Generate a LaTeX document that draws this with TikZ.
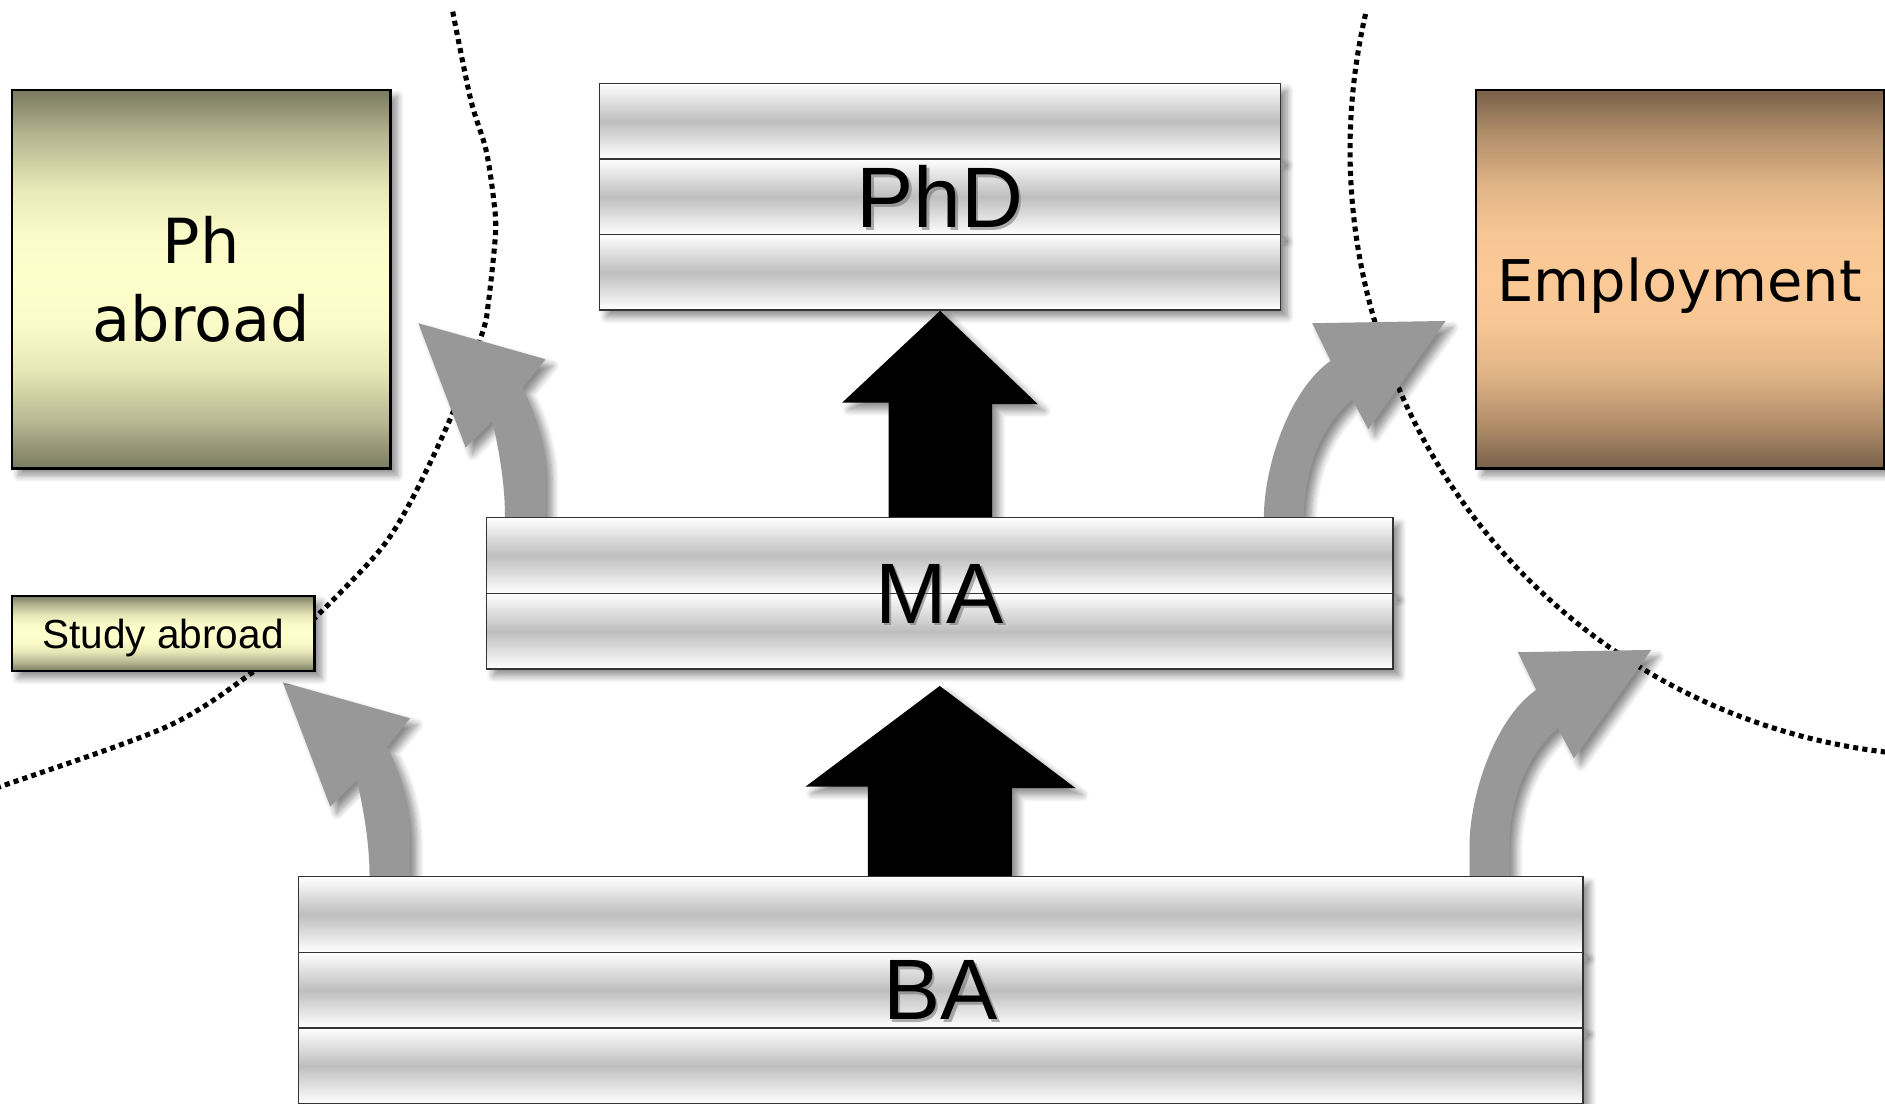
\documentclass[tikz,border=0pt]{standalone}
\usepackage{fontspec}
\setmainfont{Liberation Sans}
\newfontfamily\verdfont{DejaVu Sans}
\usetikzlibrary{calc}
\usetikzlibrary{positioning}
\usetikzlibrary{backgrounds}
\usetikzlibrary{shadows.blur}
\usepackage{xcolor}

\definecolor{olivedark}{RGB}{122,122,95}
\definecolor{olivelight}{RGB}{255,255,204}
\definecolor{browndark}{RGB}{121,96,72}
\definecolor{brownlight}{RGB}{250,201,150}
\definecolor{stripegray}{RGB}{190,190,190}
\definecolor{bendgray}{RGB}{152,152,152}

\pgfdeclareverticalshading{olivefade}{100bp}{color(0bp)=(olivedark); color(25bp)=(olivedark);
  color(31bp)=(olivelight!45!olivedark); color(38bp)=(olivelight!82!olivedark); color(44bp)=(olivelight!97!olivedark);
  color(50bp)=(olivelight); color(56bp)=(olivelight!97!olivedark); color(62bp)=(olivelight!82!olivedark);
  color(69bp)=(olivelight!45!olivedark); color(75bp)=(olivedark); color(100bp)=(olivedark)}
\pgfdeclareverticalshading{brownfade}{100bp}{color(0bp)=(browndark); color(25bp)=(browndark);
  color(31bp)=(brownlight!45!browndark); color(38bp)=(brownlight!82!browndark); color(44bp)=(brownlight!97!browndark);
  color(50bp)=(brownlight); color(56bp)=(brownlight!97!browndark); color(62bp)=(brownlight!82!browndark);
  color(69bp)=(brownlight!45!browndark); color(75bp)=(browndark); color(100bp)=(browndark)}

\tikzset{
  softshadow/.style={blur shadow={shadow xshift=1.6pt, shadow yshift=-1.6pt, shadow blur radius=1.6pt, shadow blur steps=8, shadow opacity=45}},
  stripe/.style={draw=black!80, line width=.35pt, top color=white, bottom color=white, middle color=stripegray, minimum width=#1, minimum height=.629cm, inner sep=0pt, softshadow},
  olivebox/.style={draw=black, line width=.5pt, shading=olivefade, inner sep=0pt, softshadow},
  brownbox/.style={draw=black, line width=.5pt, shading=brownfade, inner sep=0pt, softshadow},
  deglabel/.style={font=\fontsize{20.3}{24}\selectfont, inner sep=0pt},
  bendshape/.style={fill=bendgray, softshadow},
  blockarrow/.style={fill=black, softshadow},
  dotline/.style={line width=1.2pt, dash pattern=on 1.2pt off 1pt}
}

\begin{document}
\begin{tikzpicture}[x=0.01cm, y=-0.01cm]
\useasboundingbox (0,0) rectangle (1568,918);

% degree boxes
\foreach \i/\y in {1/100.75, 2/163.6, 3/226.45}
  \node[stripe=5.66cm] (phd\i) at (782,\y) {};
\foreach \i/\y in {1/462.05, 2/525}
  \node[stripe=7.534cm] (ma\i) at (781.7,\y) {};
\foreach \i/\y in {1/760.7, 2/823.65, 3/886.55}
  \node[stripe=10.678cm] (ba\i) at (782.5,\y) {};

\foreach \p/\t/\n in {phd2.center/PhD/phd, ma1.south/MA/ma, ba2.center/BA/ba} {
  \node[deglabel, text=black!60, opacity=.5] at ($(\p)+(2,2)$) {\t};
  \node[deglabel] (\n) at (\p) {\t};
}

% side boxes
\node[olivebox, align=center, minimum width=3.145cm, minimum height=3.147cm,
  font=\verdfont\fontsize{14.7}{18.4}\selectfont] (phabroad) at (167.45,232.25) {Ph\\abroad};
\node[olivebox, minimum width=2.518cm, minimum height=.627cm, text depth=0pt,
  font=\fontsize{9.6}{11.5}\selectfont] (studyabroad) at (135.6,526.85) {Study abroad};
\node[brownbox, minimum width=3.391cm, minimum height=3.147cm, text depth=0pt,
  font=\verdfont\fontsize{13.6}{16}\selectfont] (employment) at (1397.25,232.25) {Employment};

\begin{scope}[on background layer]
% dotted borders
\draw[dotline] plot[smooth] coordinates {(376.6,9.7) (391.6,83) (404.3,124.8) (410.7,166.4) (412.2,194.1) (406.2,252.3) (401.1,277.3) (376,345) (343.8,413.1) (316.1,457.5) (261.5,514.3) (210.7,558.7) (138.7,604.5) (0,654.4) (-10,657)};
\draw[dotline] plot[domain=193:95, samples=90, smooth] ({1627+504*cos(\x)}, {125+504*sin(\x)});

% black arrows
\fill[blockarrow] (ma1.north) -- ++(-42.5,0) -- ++(0,-95.1) -- ++(-38.6,0) -- (phd3.south)
  -- ++(81.2,77.6) -- ++(-38,0) -- ++(0,95.1) -- cycle;
\fill[blockarrow] (ba1.north) -- ++(-60.5,0) -- ++(0,-74.2) -- ++(-52,0) -- ($(ma2.south)+(0,13.5)$)
  -- ++(113,85) -- ++(-53,0) -- ++(0,74.2) -- cycle;

% grey bends
\foreach \a/\dx in {ma1/15.9, ba1/59.7}
  \fill[bendshape, shift={($(\a.north west)+(\dx,0)$)}] (0,0) .. controls (0,-30) and (-5.9,-60) .. (-10.6,-79.8)
    -- (-32.7,-57.7) -- (-72.1,-161.1) -- (33.8,-131.1) -- (14.4,-107.6)
    .. controls (26,-85) and (33.8,-60) .. (33.8,-30) -- (33.8,0) -- cycle;
\foreach \a/\dx/\h in {ma1/647.2/0, ba1/974.7/25}
  \fill[bendshape, shift={($(\a.north west)+(\dx,-\h)$)}] (0,\h) -- (0,0) .. controls (0,-40) and (20,-105) .. (55.5,-129.8)
    -- (40.2,-161.1) -- (151.2,-163) -- (86.8,-72.9) -- (73.5,-97.9)
    .. controls (52,-80) and (33.3,-45) .. (33.3,0) -- (33.3,\h) -- cycle;
\end{scope}
\end{tikzpicture}
\end{document}
